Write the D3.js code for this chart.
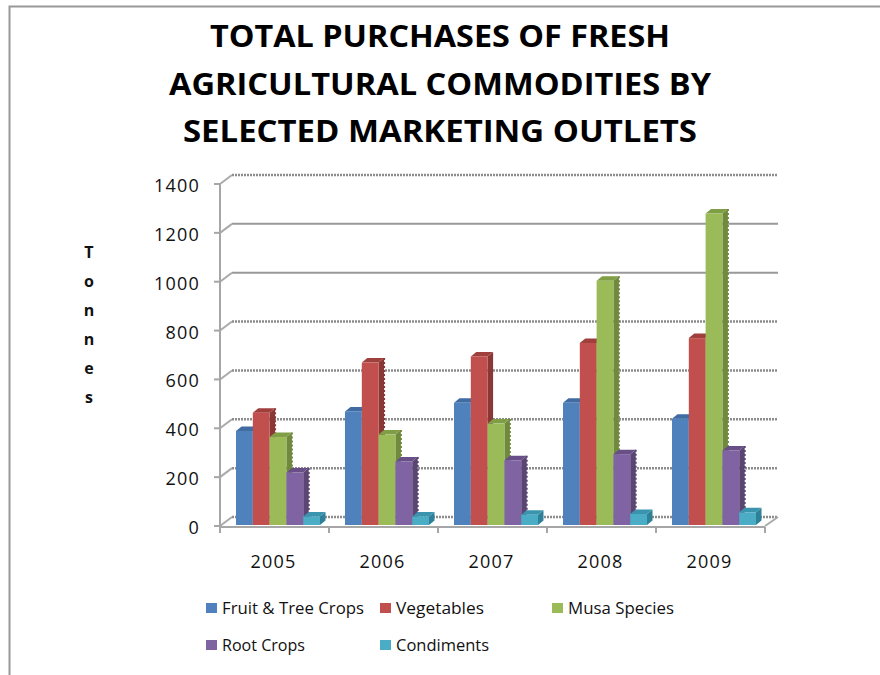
<!DOCTYPE html>
<html><head><meta charset="utf-8">
<script src="https://cdnjs.cloudflare.com/ajax/libs/d3/7.8.5/d3.min.js"></script>
<style>html,body{margin:0;padding:0;background:#fff}svg{display:block}text{fill:#111}</style>
</head><body><svg id="c" width="880" height="675"></svg>
<script>
const years = ["2005","2006","2007","2008","2009"];
const seriesNames = ["Fruit & Tree Crops","Vegetables","Musa Species","Root Crops","Condiments"];
const fruit = [385,465,500,500,435];
const vegetables = [460,665,690,745,765];
const musa = [360,370,415,1000,1275];
const roots = [215,260,265,290,305];
const condiments = [35,35,42,45,52];
const yTicks = [0,200,400,600,800,1000,1200,1400];
const dottedTicks = [0,200,400,600,800,1400];
const titleLines = ["TOTAL PURCHASES OF FRESH","AGRICULTURAL COMMODITIES BY","SELECTED MARKETING OUTLETS"];
const axisTitle = ["T","o","n","n","e","s"];
const frontColors = ["#4F81BD","#C0504D","#9BBB59","#8064A2","#4BACC6"];
const sideColors = ["#395E8C","#8A3735","#6F8A3C","#5A4573","#2F8199"];
const topColors = ["#3F6CA3","#A03F3C","#7F9E45","#674F87","#3A94AD"];
const allValues = [fruit,vegetables,musa,roots,condiments];

const svg = d3.select("#c");
const font = "'Open Sans','Noto Sans',sans-serif";
const defs = svg.append("defs");
defs.append("filter").attr("id","soft").append("feGaussianBlur").attr("stdDeviation",0.45);

// page frame
svg.append("path").attr("d","M9.5,675V6.5H880").attr("fill","none").attr("stroke","#999").attr("stroke-width",2);

// title
const titleW = [460,542,514];
svg.append("g").selectAll("text").data(titleLines).join("text")
  .attr("x",440).attr("y",(d,i)=>47+i*47.5).attr("text-anchor","middle")
  .attr("font-family",font).attr("font-weight",700).attr("font-size",31)
  .attr("textLength",(d,i)=>titleW[i]).attr("lengthAdjust","spacingAndGlyphs")
  .style("fill","#000").text(d=>d);

const y = d3.scaleLinear().domain([0,1400]).range([526,184]);
const x = d3.scaleBand().domain(years).range([220,765]);
const xs = d3.scaleBand().domain(seriesNames).range([16,100]);
const dx = 12, dy = -9, gridEnd = 778;
const plot = svg.append("g").attr("filter","url(#soft)");

// back wall gridlines and floor connectors
plot.append("g").selectAll("line").data(yTicks).join("line")
  .attr("x1",220+dx).attr("x2",gridEnd).attr("y1",d=>y(d)+dy).attr("y2",d=>y(d)+dy)
  .attr("stroke",d=>dottedTicks.includes(d)?"#8c8c8c":"#999")
  .attr("stroke-width",d=>dottedTicks.includes(d)?2.5:2)
  .attr("stroke-dasharray",d=>dottedTicks.includes(d)?"2 1":null);
plot.append("g").selectAll("line").data(yTicks).join("line")
  .attr("x1",220).attr("x2",220+dx).attr("y1",d=>y(d)).attr("y2",d=>y(d)+dy)
  .attr("stroke","#aaa").attr("stroke-width",2);
plot.append("line").attr("x1",765).attr("x2",gridEnd).attr("y1",y(0)).attr("y2",y(0)+dy).attr("stroke","#aaa").attr("stroke-width",2);

// front axes
plot.append("line").attr("x1",220).attr("x2",220).attr("y1",y(1400)).attr("y2",y(0)+6).attr("stroke","#a6a6a6").attr("stroke-width",2);
plot.append("line").attr("x1",220).attr("x2",765).attr("y1",y(0)+1).attr("y2",y(0)+1).attr("stroke","#a6a6a6").attr("stroke-width",2);
plot.append("g").selectAll("line").data(yTicks).join("line")
  .attr("x1",214).attr("x2",220).attr("y1",d=>y(d)).attr("y2",d=>y(d)).attr("stroke","#a6a6a6").attr("stroke-width",2);
plot.append("g").selectAll("line").data(years.concat("end")).join("line")
  .attr("x1",(d,i)=>220+i*x.bandwidth()).attr("x2",(d,i)=>220+i*x.bandwidth())
  .attr("y1",y(0)+1).attr("y2",y(0)+7).attr("stroke","#a6a6a6").attr("stroke-width",2);

// bars
const bw = xs.bandwidth(), bdx = 5.5, bdy = -4.5, base = y(0)-1;
const jagged = new Set(["1-0","2-0","2-1","2-2","2-3","2-4","3-0","3-1","3-2","3-3","3-4","1-1"]);
years.forEach((yr,g)=>{
  const gx = plot.append("g").attr("transform",`translate(${x(yr)},0)`);
  seriesNames.forEach((s,k)=>{
    const v = allValues[k][g], x0 = xs(s), x1 = x0+bw, yt = y(v)-1;
    gx.append("path").attr("d",`M${x1},${yt}L${x1+bdx},${yt+bdy}V${base+bdy}L${x1},${base}Z`).attr("fill",sideColors[k]);
    gx.append("path").attr("d",`M${x0},${yt}L${x0+bdx},${yt+bdy}H${x1+bdx}L${x1},${yt}Z`).attr("fill",topColors[k]);
    gx.append("rect").attr("x",x0).attr("y",yt).attr("width",bw).attr("height",base-yt).attr("fill",frontColors[k]);
    if(jagged.has(k+"-"+g)){
      gx.append("line").attr("x1",x1+bdx).attr("x2",x1+bdx).attr("y1",yt+bdy).attr("y2",base+bdy)
        .attr("stroke",sideColors[k]).attr("stroke-width",2).attr("stroke-dasharray","2 2");
    }
  });
});

// tick labels
svg.append("g").selectAll("text").data(yTicks).join("text")
  .attr("x",200).attr("y",d=>y(d)+8).attr("text-anchor","end")
  .attr("font-family",font).attr("font-size",18).attr("letter-spacing",1.2).text(d=>d);
svg.append("g").selectAll("text").data(years).join("text")
  .attr("x",d=>x(d)+x.bandwidth()/2-1).attr("y",568).attr("text-anchor","middle")
  .attr("font-family",font).attr("font-size",18).attr("letter-spacing",1.2).text(d=>d);

// axis title
svg.append("g").selectAll("text").data(axisTitle).join("text")
  .attr("x",89).attr("y",(d,i)=>258+i*29).attr("text-anchor","middle")
  .attr("font-family",font).attr("font-weight",700).attr("font-size",16).text(d=>d);

// legend
const legendX = [206,380,552,206,380];
const legendY = [608,608,608,645,645];
const legendW = [142,88,106,83,93];
const leg = svg.append("g").selectAll("g").data(seriesNames).join("g")
  .attr("transform",(d,i)=>`translate(${legendX[i]},${legendY[i]})`);
leg.append("rect").attr("y",-5).attr("width",11).attr("height",10).attr("fill",(d,i)=>frontColors[i]);
leg.append("text").attr("x",16).attr("y",6).attr("font-family",font).attr("font-size",15.5)
  .attr("textLength",(d,i)=>legendW[i]).attr("lengthAdjust","spacingAndGlyphs").text(d=>d);
</script></body></html>
